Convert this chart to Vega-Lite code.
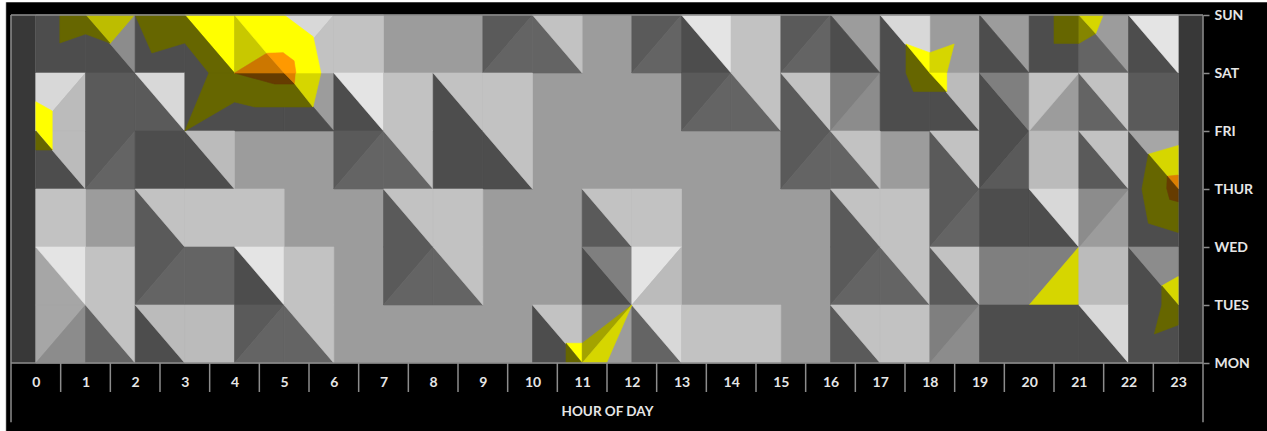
{"$schema":"https://vega.github.io/schema/vega-lite/v6.json","width":1192,"height":348,"autosize":"none","padding":{"left":11,"top":15,"right":64,"bottom":68},"background":"#000000","view":{"stroke":null},
"config":{"font":"Lato"},
"encoding":{
"x":{"field":"x","type":"quantitative","scale":{"domain":[-0.5,23.5],"nice":false,"zero":false},
"axis":{"title":"HOUR OF DAY","values":[0,1,2,3,4,5,6,7,8,9,10,11,12,13,14,15,16,17,18,19,20,21,22,23],"format":"d","ticks":false,"domain":false,"grid":false,"labelFont":"Lato","labelFontSize":14,"labelFontWeight":"bold","labelColor":"#e6e6e6","labelPadding":12,"labelFlush":false,"labelOverlap":false,"titleFont":"Lato","titleFontSize":13.5,"titleFontWeight":"bold","titleColor":"#e6e6e6","titlePadding":15}},
"y":{"field":"y","type":"quantitative","scale":{"domain":[0,6],"nice":false,"zero":false},
"axis":{"orient":"right","title":null,"values":[0,1,2,3,4,5,6],"labelExpr":"['MON','TUES','WED','THUR','FRI','SAT','SUN'][datum.value]","domain":false,"grid":false,"tickColor":"#8c8c8c","tickSize":6,"tickWidth":1.5,"labelFont":"Lato","labelFontSize":14,"labelFontWeight":"bold","labelColor":"#e6e6e6","labelPadding":5}}
},
"layer":[
{"data":{"values":[
{"k":"w","x":[-0.725,-0.605,-0.605,-0.725],"y":[6.27,6.27,-1.2,-1.2]},
{"k":"w","x":[-0.725,25,25,-0.725],"y":[6.27,6.27,6.225,6.225]},
{"k":"s","x":[-0.5,0,0,-0.5],"y":[0,0,6,6]},
{"k":"s","x":[23,23.5,23.5,23],"y":[0,0,6,6]},
{"k":"m","x":[0,23,23,0],"y":[0,0,6,6]},

{"k":"a","x":[0,1,1,0],"y":[5,5,6,6]},
{"k":"a","x":[1,1,2],"y":[6,5,5]},{"k":"Z","x":[1,2,1.5],"y":[6,6,5.5]},{"k":"f","x":[2,2,1.5],"y":[6,5,5.5]},
{"k":"a","x":[2,3,3,2],"y":[5,5,6,6]},
{"k":"a","x":[3,3,4],"y":[6,5,5]},{"k":"Y","x":[3,4,4],"y":[6,6,5]},
{"k":"i","x":[5,5,6],"y":[5,6,6]},{"k":"h","x":[5,6,6],"y":[5,6,5]},
{"k":"h","x":[6,7,7,6],"y":[5,5,6,6]},
{"k":"b","x":[9,9,10],"y":[5,6,6]},{"k":"c","x":[9,10,10],"y":[5,6,5]},
{"k":"c","x":[10,10,11],"y":[6,5,5]},{"k":"h","x":[10,11,11],"y":[6,6,5]},
{"k":"b","x":[12,12,13],"y":[5,6,6]},{"k":"c","x":[12,13,13],"y":[5,6,5]},
{"k":"a","x":[13,13,14],"y":[6,5,5]},{"k":"j","x":[13,14,14],"y":[6,6,5]},
{"k":"h","x":[14,15,15,14],"y":[5,5,6,6]},
{"k":"b","x":[15,15,16],"y":[5,6,6]},{"k":"c","x":[15,16,16],"y":[5,6,5]},
{"k":"a","x":[16,16,17],"y":[6,5,5]},
{"k":"a","x":[17,17,18],"y":[6,5,5]},{"k":"i","x":[17,18,18],"y":[6,6,5]},
{"k":"a","x":[19,19,20],"y":[6,5,5]},
{"k":"a","x":[20,21,21,20],"y":[5,5,6,6]},
{"k":"c","x":[21,21,22],"y":[6,5,5]},
{"k":"a","x":[22,22,23],"y":[6,5,5]},{"k":"j","x":[22,23,23],"y":[6,6,5]},

{"k":"i","x":[0,0,1],"y":[4,5,5]},{"k":"g","x":[0,1,1],"y":[4,5,4]},
{"k":"b","x":[1,2,2,1],"y":[4,4,5,5]},
{"k":"b","x":[2,2,3],"y":[5,4,4]},{"k":"i","x":[2,3,3],"y":[5,5,4]},
{"k":"a","x":[3,5,5,3],"y":[4,4,5,5]},
{"k":"a","x":[5,5,6],"y":[5,4,4]},
{"k":"a","x":[6,6,7],"y":[5,4,4]},{"k":"j","x":[6,7,7],"y":[5,5,4]},
{"k":"h","x":[7,8,8,7],"y":[4,4,5,5]},
{"k":"a","x":[8,8,9],"y":[5,4,4]},{"k":"h","x":[8,9,9],"y":[5,5,4]},
{"k":"h","x":[9,10,10,9],"y":[4,4,5,5]},
{"k":"b","x":[13,13,14],"y":[4,5,5]},{"k":"c","x":[13,14,14],"y":[4,5,4]},
{"k":"c","x":[14,14,15],"y":[5,4,4]},{"k":"h","x":[14,15,15],"y":[5,5,4]},
{"k":"b","x":[15,15,16],"y":[5,4,4]},{"k":"h","x":[15,16,16],"y":[5,5,4]},
{"k":"e","x":[16,16,17],"y":[4,5,5]},{"k":"f","x":[16,17,17],"y":[4,5,4]},
{"k":"a","x":[17,18,18,17],"y":[4,4,5,5]},
{"k":"a","x":[18,18,19],"y":[5,4,4]},{"k":"g","x":[18,19,19],"y":[5,5,4]},
{"k":"a","x":[19,19,20],"y":[5,4,4]},{"k":"e","x":[19,20,20],"y":[5,5,4]},
{"k":"h","x":[20,20,21],"y":[4,5,5]},
{"k":"c","x":[21,21,22],"y":[5,4,4]},{"k":"h","x":[21,22,22],"y":[5,5,4]},
{"k":"b","x":[22,23,23,22],"y":[4,4,5,5]},

{"k":"a","x":[0,0,1],"y":[4,3,3]},{"k":"g","x":[0,1,1],"y":[4,4,3]},
{"k":"b","x":[1,1,2],"y":[3,4,4]},{"k":"c","x":[1,2,2],"y":[3,4,3]},
{"k":"a","x":[2,3,3,2],"y":[3,3,4,4]},
{"k":"a","x":[3,3,4],"y":[4,3,3]},{"k":"g","x":[3,4,4],"y":[4,4,3]},
{"k":"b","x":[6,6,7],"y":[3,4,4]},{"k":"c","x":[6,7,7],"y":[3,4,3]},
{"k":"c","x":[7,7,8],"y":[4,3,3]},{"k":"h","x":[7,8,8],"y":[4,4,3]},
{"k":"a","x":[8,9,9,8],"y":[3,3,4,4]},
{"k":"a","x":[9,9,10],"y":[4,3,3]},{"k":"h","x":[9,10,10],"y":[4,4,3]},
{"k":"b","x":[15,15,16],"y":[3,4,4]},{"k":"c","x":[15,16,16],"y":[3,4,3]},
{"k":"c","x":[16,16,17],"y":[4,3,3]},{"k":"h","x":[16,17,17],"y":[4,4,3]},
{"k":"b","x":[18,18,19],"y":[4,3,3]},{"k":"h","x":[18,19,19],"y":[4,4,3]},
{"k":"a","x":[19,19,20],"y":[3,4,4]},{"k":"b","x":[19,20,20],"y":[3,4,3]},
{"k":"g","x":[20,21,21,20],"y":[3,3,4,4]},
{"k":"b","x":[21,21,22],"y":[4,3,3]},{"k":"h","x":[21,22,22],"y":[4,4,3]},
{"k":"a","x":[22,22,23],"y":[4,3,3]},{"k":"n","x":[22,23,23],"y":[4,4,3]},

{"k":"h","x":[0,1,1,0],"y":[2,2,3,3]},
{"k":"b","x":[2,2,3],"y":[3,2,2]},{"k":"h","x":[2,3,3],"y":[3,3,2]},
{"k":"h","x":[3,5,5,3],"y":[2,2,3,3]},
{"k":"b","x":[7,7,8],"y":[3,2,2]},{"k":"h","x":[7,8,8],"y":[3,3,2]},
{"k":"h","x":[8,9,9,8],"y":[2,2,3,3]},
{"k":"b","x":[11,11,12],"y":[3,2,2]},{"k":"h","x":[11,12,12],"y":[3,3,2]},
{"k":"h","x":[12,13,13,12],"y":[2,2,3,3]},
{"k":"b","x":[16,16,17],"y":[3,2,2]},{"k":"h","x":[16,17,17],"y":[3,3,2]},
{"k":"h","x":[17,18,18,17],"y":[2,2,3,3]},
{"k":"b","x":[18,18,19],"y":[2,3,3]},{"k":"c","x":[18,19,19],"y":[2,3,2]},
{"k":"a","x":[19,20,20,19],"y":[2,2,3,3]},
{"k":"a","x":[20,20,21],"y":[3,2,2]},{"k":"i","x":[20,21,21],"y":[3,3,2]},
{"k":"f","x":[21,21,22],"y":[2,3,3]},
{"k":"a","x":[22,23,23,22],"y":[2,2,3,3]},

{"k":"n","x":[0,0,1],"y":[2,1,1]},{"k":"j","x":[0,1,1],"y":[2,2,1]},
{"k":"h","x":[1,2,2,1],"y":[1,1,2,2]},
{"k":"b","x":[2,2,3],"y":[1,2,2]},{"k":"c","x":[2,3,3],"y":[1,2,1]},
{"k":"c","x":[3,4,4,3],"y":[1,1,2,2]},
{"k":"a","x":[4,4,5],"y":[2,1,1]},{"k":"j","x":[4,5,5],"y":[2,2,1]},
{"k":"h","x":[5,6,6,5],"y":[1,1,2,2]},
{"k":"b","x":[7,7,8],"y":[1,2,2]},{"k":"c","x":[7,8,8],"y":[1,2,1]},
{"k":"c","x":[8,8,9],"y":[2,1,1]},{"k":"h","x":[8,9,9],"y":[2,2,1]},
{"k":"a","x":[11,11,12],"y":[2,1,1]},{"k":"e","x":[11,12,12],"y":[2,2,1]},
{"k":"j","x":[12,12,13],"y":[1,2,2]},{"k":"g","x":[12,13,13],"y":[1,2,1]},
{"k":"b","x":[16,16,17],"y":[1,2,2]},{"k":"c","x":[16,17,17],"y":[1,2,1]},
{"k":"c","x":[17,17,18],"y":[2,1,1]},{"k":"h","x":[17,18,18],"y":[2,2,1]},
{"k":"b","x":[18,18,19],"y":[2,1,1]},{"k":"h","x":[18,19,19],"y":[2,2,1]},
{"k":"e","x":[19,20,20,19],"y":[1,1,2,2]},
{"k":"e","x":[20,20,21],"y":[1,2,2]},{"k":"W","x":[20,21,21],"y":[1,2,1]},
{"k":"g","x":[21,22,22,21],"y":[1,1,2,2]},
{"k":"a","x":[22,22,23],"y":[2,1,1]},{"k":"f","x":[22,23,23],"y":[2,2,1]},

{"k":"n","x":[0,0,1],"y":[0,1,1]},{"k":"f","x":[0,1,1],"y":[0,1,0]},
{"k":"c","x":[1,1,2],"y":[1,0,0]},{"k":"h","x":[1,2,2],"y":[1,1,0]},
{"k":"a","x":[2,2,3],"y":[1,0,0]},{"k":"g","x":[2,3,3],"y":[1,1,0]},
{"k":"g","x":[3,4,4,3],"y":[0,0,1,1]},
{"k":"b","x":[4,4,5],"y":[0,1,1]},{"k":"c","x":[4,5,5],"y":[0,1,0]},
{"k":"c","x":[5,5,6],"y":[1,0,0]},{"k":"h","x":[5,6,6],"y":[1,1,0]},
{"k":"a","x":[10,10,11],"y":[1,0,0]},{"k":"h","x":[10,11,11],"y":[1,1,0]},
{"k":"e","x":[11,11,12],"y":[0,1,1]},
{"k":"c","x":[12,12,13],"y":[1,0,0]},{"k":"i","x":[12,13,13],"y":[1,1,0]},
{"k":"h","x":[13,15,15,13],"y":[0,0,1,1]},
{"k":"b","x":[16,16,17],"y":[1,0,0]},{"k":"h","x":[16,17,17],"y":[1,1,0]},
{"k":"h","x":[17,18,18,17],"y":[0,0,1,1]},
{"k":"e","x":[18,18,19],"y":[0,1,1]},{"k":"f","x":[18,19,19],"y":[0,1,0]},
{"k":"a","x":[19,21,21,19],"y":[0,0,1,1]},
{"k":"a","x":[21,21,22],"y":[1,0,0]},{"k":"i","x":[21,22,22],"y":[1,1,0]},
{"k":"a","x":[22,23,23,22],"y":[0,0,1,1]},

{"k":"L","x":[0.483,0.483,1,1.49,1],"y":[6,5.517,5.672,5.517,6]},
{"k":"L","x":[2,2.336,3,3.484,4,3],"y":[6,5.345,5.517,5,5,6]},
{"k":"L","x":[3.484,3,4,4.41,5.58,5.216,4.81,4],"y":[5,4,4.5,4.414,4.414,4.81,4.81,5]},
{"k":"B","x":[4,4.81,5.216,5],"y":[5,4.81,4.81,5]},
{"k":"R","x":[5,5.237,5.216],"y":[5,5,4.81]},
{"k":"W","x":[5.237,5.74,5.58,5.216],"y":[5,5,4.414,4.81]},
{"k":"V","x":[4,4,4.65],"y":[6,5,5.34]},
{"k":"P","x":[4,4.65,5],"y":[5,5.34,5]},
{"k":"Y","x":[4,5,5.585,5.74,5.237,5.2,4.98,4.65],"y":[6,6,5.625,5,5,5.21,5.35,5.34]},
{"k":"O","x":[4.65,4.98,5.2,5.237,5],"y":[5.34,5.35,5.21,5,5]},
{"k":"Y","x":[0,0.33,0.33,0],"y":[4.505,4.345,3.672,4.02]},
{"k":"L","x":[0,0.33,0],"y":[4,3.672,3.672]},
{"k":"L","x":[17.52,18.34,17.67,17.52],"y":[5.5,4.68,4.68,5]},
{"k":"Y","x":[17.52,18,18],"y":[5.5,5.35,5]},
{"k":"W","x":[18,18.49,18.34,18],"y":[5.35,5.5,5,5]},
{"k":"Y","x":[18,18.34,18.34],"y":[5,5,4.68]},
{"k":"L","x":[20.5,20.5,21,21],"y":[6,5.51,5.51,6]},
{"k":"Q","x":[21,21.34,21],"y":[6,5.68,5.51]},
{"k":"W","x":[21,21.49,21.34],"y":[6,6,5.68]},
{"k":"W","x":[22.4,23,23,22.78],"y":[3.6,3.75,3.24,3.22]},
{"k":"R","x":[22.78,23,23],"y":[3.22,3.24,3]},
{"k":"L","x":[22.4,22.78,22.77,22.83,23,23,22.4,22.27],"y":[3.6,3.22,3.01,2.82,2.78,2.25,2.41,3]},
{"k":"B","x":[22.78,23,23,22.83,22.77],"y":[3.22,3,2.78,2.82,3.01]},
{"k":"W","x":[22.67,23,23],"y":[1.33,1.49,1]},
{"k":"L","x":[22.67,23,23,22.52,22.67],"y":[1.33,1,0.655,0.5,1]},
{"k":"Y","x":[10.675,11,11],"y":[0.34,0.34,0]},
{"k":"L","x":[10.675,11,10.675],"y":[0.34,0,0]},
{"k":"U","x":[11,12,11],"y":[0.34,1,0]},
{"k":"W","x":[11,12,11.49],"y":[0,1,0]}
]},
"transform":[{"window":[{"op":"row_number","as":"id"}]},{"flatten":["x","y"]},{"window":[{"op":"row_number","as":"i"}],"groupby":["id"]}],
"mark":{"type":"line","filled":true,"interpolate":"linear-closed","strokeWidth":0.6},
"encoding":{
"fill":{"field":"k","type":"nominal","legend":null,"scale":{
"domain":["w","s","a","b","c","e","f","m","n","g","h","i","j","Y","W","V","Z","U","Q","L","O","P","R","B"],
"range":["#ffffff","#383838","#4d4d4d","#5a5a5a","#646464","#7f7f7f","#8c8c8c","#9c9c9c","#a6a6a6","#bbbbbb","#c2c2c2","#d8d8d8","#e4e4e4","#ffff00","#d6d600","#c8c800","#bdbd00","#a3a300","#858500","#666600","#ff9900","#cc7700","#dd7f00","#663c00"]}},
"stroke":{"field":"k","type":"nominal","legend":null,"scale":{
"domain":["w","s","a","b","c","e","f","m","n","g","h","i","j","Y","W","V","Z","U","Q","L","O","P","R","B"],
"range":["#ffffff","#383838","#4d4d4d","#5a5a5a","#646464","#7f7f7f","#8c8c8c","#9c9c9c","#a6a6a6","#bbbbbb","#c2c2c2","#d8d8d8","#e4e4e4","#ffff00","#d6d600","#c8c800","#bdbd00","#a3a300","#858500","#666600","#ff9900","#cc7700","#dd7f00","#663c00"]}},
"detail":{"field":"id"},
"order":{"field":"i"}
}},
{"data":{"values":[{"x":-0.5,"y":6,"e":-1.02},{"x":23.5,"y":6,"e":-1.02},{"x":0.5,"y":0,"e":-0.5},{"x":1.5,"y":0,"e":-0.5},{"x":2.5,"y":0,"e":-0.5},{"x":3.5,"y":0,"e":-0.5},{"x":4.5,"y":0,"e":-0.5},{"x":5.5,"y":0,"e":-0.5},{"x":6.5,"y":0,"e":-0.5},{"x":7.5,"y":0,"e":-0.5},{"x":8.5,"y":0,"e":-0.5},{"x":9.5,"y":0,"e":-0.5},{"x":10.5,"y":0,"e":-0.5},{"x":11.5,"y":0,"e":-0.5},{"x":12.5,"y":0,"e":-0.5},{"x":13.5,"y":0,"e":-0.5},{"x":14.5,"y":0,"e":-0.5},{"x":15.5,"y":0,"e":-0.5},{"x":16.5,"y":0,"e":-0.5},{"x":17.5,"y":0,"e":-0.5},{"x":18.5,"y":0,"e":-0.5},{"x":19.5,"y":0,"e":-0.5},{"x":20.5,"y":0,"e":-0.5},{"x":21.5,"y":0,"e":-0.5},{"x":22.5,"y":0,"e":-0.5}]},
"mark":{"type":"rule","color":"#8c8c8c","strokeWidth":1.5},
"encoding":{"y2":{"field":"e"}}},
{"data":{"values":[{"x":-0.5,"x2":23.5,"y":6},{"x":-0.5,"x2":23.5,"y":0}]},
"mark":{"type":"rule","color":"#8c8c8c","strokeWidth":1.5},
"encoding":{"x2":{"field":"x2"}}}
]}
